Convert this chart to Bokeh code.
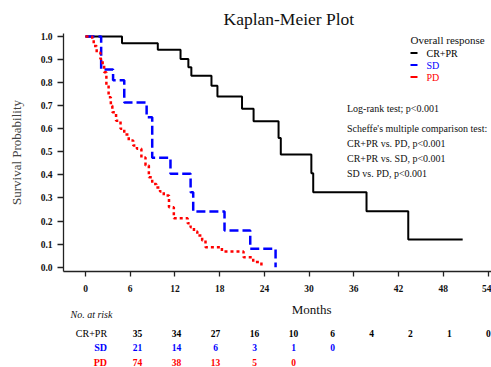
from bokeh.plotting import figure
from bokeh.layouts import column
from bokeh.models import Range1d, FixedTicker, PrintfTickFormatter, Label
from bokeh.core.properties import value
from bokeh.embed import file_html
from bokeh.resources import INLINE

# ---------------- data ----------------
cr_t = [0, 4.9, 9.7, 12.75, 13.8, 14.2, 16.9, 17.7, 21.0, 22.55, 25.9, 26.2, 30.3, 30.55, 37.7, 43.3, 50.6]
cr_s = [1.0, 0.971, 0.943, 0.903, 0.867, 0.83, 0.786, 0.74, 0.687, 0.633, 0.56, 0.488, 0.407, 0.325, 0.243, 0.12, 0.12]

sd_t = [0, 2.1, 3.7, 5.2, 8.2, 8.95, 11.4, 14.1, 14.45, 18.65, 22.1, 25.5]
sd_s = [1.0, 0.857, 0.81, 0.714, 0.65, 0.474, 0.405, 0.325, 0.241, 0.159, 0.08, 0.0]

pd_t = [0, 0.9, 1.1, 1.5, 2.0, 2.3, 2.5, 2.8, 3.1, 3.4, 3.6, 4.1, 4.7, 5.2, 5.8, 6.4, 6.9, 7.5,
        8.05, 8.5, 8.95, 9.5, 10.0, 10.5, 11.2, 11.85, 13.7, 14.1, 14.55, 15.0, 15.65, 16.1,
        18.3, 21.2, 22.5, 23.6]
pd_s = [1.0, 0.986, 0.959, 0.93, 0.903, 0.875, 0.845, 0.79, 0.737, 0.70, 0.672, 0.635, 0.60, 0.575,
        0.549, 0.527, 0.513, 0.475, 0.441, 0.39, 0.361, 0.345, 0.328, 0.311, 0.26, 0.212, 0.19,
        0.173, 0.155, 0.137, 0.116, 0.087, 0.068, 0.043, 0.022, 0.0]

risk_times = [0, 6, 12, 18, 24, 30, 36, 42, 48, 54]
risk_cr = [35, 34, 27, 16, 10, 6, 4, 2, 1, 0]
risk_sd = [21, 14, 6, 3, 1, 0]
risk_pd = [74, 38, 13, 5, 0]
group_names = ["CR+PR", "SD", "PD"]
x_ticks = [0, 6, 12, 18, 24, 30, 36, 42, 48, 54]
y_ticks = [0.0, 0.1, 0.2, 0.3, 0.4, 0.5, 0.6, 0.7, 0.8, 0.9, 1.0]
stats_lines = ["Log-rank test; p<0.001",
               "Scheffe's multiple comparison test:",
               "CR+PR vs. PD, p<0.001",
               "CR+PR vs. SD, p<0.001",
               "SD vs. PD, p<0.001"]

# ---------------- style ----------------
SERIF = "Liberation Serif"
BLACK, BLUE, RED = "#000000", "#0000FF", "#FF0000"
colors = [BLACK, BLUE, RED]
W = 491
H_MAIN, H_TABLE = 300, 67
PPM = 7.454          # pixels per month
PPU = 230.7          # pixels per unit survival


def dx(xp):
    """canvas pixel x -> months"""
    return (xp - 85) / PPM


def dy(yp):
    """canvas pixel y -> survival units"""
    return (266.7 - yp) / PPU


p = figure(width=W, height=H_MAIN, output_backend="svg", toolbar_location=None,
           x_range=Range1d(dx(63), dx(W)), y_range=Range1d(dy(271), dy(33)),
           min_border_left=63, min_border_right=0, min_border_top=33, min_border_bottom=29)
p.outline_line_color = None
p.grid.visible = False
p.background_fill_color = "white"
p.border_fill_color = "white"

p.title.text = "Kaplan-Meier Plot"
p.title.align = "left"
p.title.offset = 160
p.title.standoff = 10
p.title.text_font = SERIF
p.title.text_font_style = "normal"
p.title.text_font_size = "17.5px"
p.title.text_color = "#111111"

for ax in (p.xaxis[0], p.yaxis[0]):
    ax.axis_line_color = "#222222"
    ax.axis_line_width = 1.3
    ax.major_tick_line_color = "#222222"
    ax.major_tick_line_width = 1.3
    ax.minor_tick_line_color = None
    ax.major_tick_in = 0
    ax.major_label_text_font = SERIF
    ax.major_label_text_font_style = "bold"
    ax.major_label_text_font_size = "9.5px"
    ax.major_label_text_color = "#111111"

p.yaxis.ticker = FixedTicker(ticks=y_ticks)
p.yaxis.formatter = PrintfTickFormatter(format="%.1f")
p.yaxis.major_tick_out = 6
p.yaxis.major_label_standoff = 5
p.yaxis.axis_label = "Survival Probability"
p.yaxis.axis_label_text_font = SERIF
p.yaxis.axis_label_text_font_style = "normal"
p.yaxis.axis_label_text_font_size = "13px"
p.yaxis.axis_label_standoff = 14

p.xaxis.ticker = FixedTicker(ticks=x_ticks)
p.xaxis.major_tick_out = 5
p.xaxis.major_label_standoff = 8

# ---------------- curves ----------------
p.step(cr_t, cr_s, mode="after", line_color=BLACK, line_width=2)
p.step(sd_t, sd_s, mode="after", line_color=BLUE, line_width=2.5, line_dash="9 4")
p.step(pd_t, pd_s, mode="after", line_color=RED, line_width=2.5, line_dash="3 3")

# legend
p.add_layout(Label(x=dx(410), y=dy(39), text="Overall response", text_align="left",
                   text_baseline="middle", text_font=SERIF, text_font_size="11px", text_color="#111111"))
leg_y = [dy(52.5), dy(64.5), dy(76.5)]
p.segment(x0=[dx(410)] * 3, x1=[dx(417)] * 3, y0=leg_y, y1=leg_y, line_color=colors, line_width=2)
for name, c, yy in zip(group_names, colors, leg_y):
    p.add_layout(Label(x=dx(426), y=yy, text=name, text_align="left", text_baseline="middle",
                       text_font=SERIF, text_font_size="10px", text_color=c))

# statistics text
for txt, yp in zip(stats_lines, [108, 128, 142.5, 157.5, 172.5]):
    p.add_layout(Label(x=dx(346.5), y=dy(yp), text=txt, text_align="left", text_baseline="middle",
                       text_font=SERIF, text_font_size="10px", text_color="#111111"))

# ---------------- x-axis title and number-at-risk table ----------------
t = figure(width=W, height=H_TABLE, output_backend="svg", toolbar_location=None,
           x_range=Range1d(dx(0), dx(W)), y_range=Range1d(H_MAIN + H_TABLE, H_MAIN),
           min_border=0, x_axis_type=None, y_axis_type=None)
t.outline_line_color = None
t.grid.visible = False

t.text(x=[dx(284.7)], y=[309.3], text=["Months"], text_align="center", text_baseline="middle",
       text_font=value(SERIF), text_font_size="13px", text_color="#111111")
t.text(x=[dx(8)], y=[314.3], text=["No. at risk"], text_align="left", text_baseline="middle",
       text_font=value(SERIF), text_font_style="italic", text_font_size="10px", text_color="#111111")

row_y = [333.3, 347.3, 361.5]
for name, c, yy, counts in zip(group_names, colors, row_y, [risk_cr, risk_sd, risk_pd]):
    t.text(x=[dx(50)], y=[yy], text=[name], text_align="right", text_baseline="middle",
           text_font=value(SERIF), text_font_size="10px", text_color=c,
           text_font_style="normal" if c == BLACK else "bold")
    n = len(counts)
    t.text(x=risk_times[:n], y=[yy] * n, text=[str(v) for v in counts], text_align="center",
           text_baseline="middle", text_font=value(SERIF), text_font_style="bold",
           text_font_size="9.5px", text_color=c)

layout = column(p, t, spacing=0)
open("out.html", "w").write(file_html(layout, INLINE))
